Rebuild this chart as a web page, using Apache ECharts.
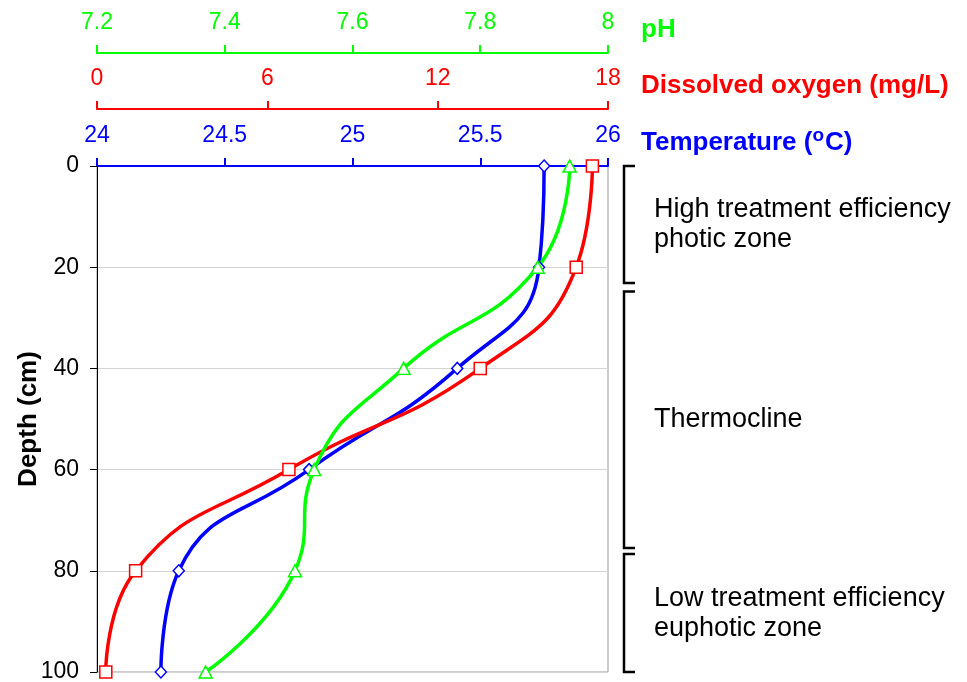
<!DOCTYPE html>
<html>
<head>
<meta charset="utf-8">
<title>Depth profile</title>
<style>
  html, body { margin: 0; padding: 0; background: #fff; }
  #main { width: 967px; height: 682px; }
</style>
</head>
<body>
<div id="main"></div>
<script src="https://cdn.jsdelivr.net/npm/echarts@6/dist/echarts.min.js"></script>
<script>
var depths = [0, 20, 40, 60, 80, 100];
var temperature = [25.75, 25.73, 25.41, 24.83, 24.32, 24.25];
var oxygen = [17.45, 16.88, 13.5, 6.76, 1.36, 0.31];
var ph = [7.94, 7.89, 7.68, 7.54, 7.51, 7.37];

var zoneNames = ['High treatment efficiency\nphotic zone', 'Thermocline', 'Low treatment efficiency\neuphotic zone'];
var zoneTop = [0, 24.8, 76.7];
var zoneBottom = [23.1, 75.5, 100];

var FONT = '"Liberation Sans", Arial, sans-serif';
var GREEN = '#00ff00', RED = '#ff0000', BLUE = '#0000ff';

var chart = echarts.init(document.getElementById('main'));

function topAxis(name, color, min, max, interval, offset) {
    return {
        type: 'value',
        position: 'top',
        offset: offset,
        min: min,
        max: max,
        interval: interval,
        axisLine: { show: true, onZero: false, lineStyle: { color: color, width: 2 } },
        axisTick: { show: true, length: 8, lineStyle: { color: color, width: 2 } },
        axisLabel: { color: color, fontSize: 23, fontFamily: FONT, margin: 19 },
        splitLine: { show: false },
        name: name,
        nameLocation: 'end',
        nameGap: 33,
        nameMoveOverlap: false,
        nameTextStyle: {
            color: color, fontSize: 26, fontWeight: 'bold', fontFamily: FONT,
            lineHeight: 34,
            padding: [0, 0, 46, 0],
            rich: {
                sup: {
                    color: color, fontSize: 19, fontWeight: 'bold', fontFamily: FONT,
                    lineHeight: 18, verticalAlign: 'top', padding: [0, 1, 0, 0]
                }
            }
        }
    };
}

function profile(name, values, axisIndex, color, symbol, size) {
    return {
        type: 'line',
        name: name,
        xAxisIndex: axisIndex,
        data: values.map(function (v, i) { return [v, depths[i]]; }),
        smooth: 0.5,
        symbol: symbol,
        symbolSize: size,
        showAllSymbol: true,
        lineStyle: { color: color, width: 3.5 },
        itemStyle: { color: '#fff', borderColor: color, borderWidth: 1.5 }
    };
}

chart.setOption({
    animation: false,
    backgroundColor: '#fff',
    grid: {
        left: 97, right: 359, top: 166, bottom: 10,
        outerBoundsMode: 'none',
        containLabel: false,
        show: true, borderColor: '#999', borderWidth: 1
    },
    xAxis: [
        topAxis('Temperature ({sup|o}C)', BLUE, 24, 26, 0.5, 0),
        topAxis('Dissolved oxygen (mg/L)', RED, 0, 18, 6, 57),
        topAxis('pH', GREEN, 7.2, 8, 0.2, 113)
    ],
    yAxis: {
        type: 'value',
        inverse: true,
        min: 0,
        max: 100,
        interval: 20,
        axisLine: { show: true, onZero: false, lineStyle: { color: '#000', width: 1 } },
        axisTick: { show: true, length: 7, lineStyle: { color: '#000' } },
        axisLabel: { color: '#000', fontSize: 23, fontFamily: FONT, margin: 18 },
        splitLine: { lineStyle: { color: '#d4d4d4' } },
        name: 'Depth (cm)',
        nameLocation: 'middle',
        nameGap: 55,
        nameMoveOverlap: false,
        nameTextStyle: { color: '#000', fontSize: 26, fontWeight: 'bold', fontFamily: FONT }
    },
    series: [
        profile('Temperature', temperature, 0, BLUE, 'diamond', [11, 12]),
        profile('Dissolved oxygen', oxygen, 1, RED, 'rect', 12),
        profile('pH', ph, 2, GREEN, 'triangle', [13, 12])
    ]
});

// brackets marking the zones, placed on the depth axis
var graphics = [];
zoneNames.forEach(function (label, i) {
    var y1 = chart.convertToPixel({ yAxisIndex: 0 }, zoneTop[i]);
    var y2 = chart.convertToPixel({ yAxisIndex: 0 }, zoneBottom[i]);
    graphics.push({
        type: 'polyline',
        shape: { points: [[635, y1], [624, y1], [624, y2], [635, y2]] },
        style: { stroke: '#000', lineWidth: 2.5, fill: 'none' }
    });
    graphics.push({
        type: 'text',
        x: 654,
        y: (y1 + y2) / 2,
        style: {
            text: label, fill: '#000', fontSize: 27, fontFamily: FONT,
            lineHeight: 30, verticalAlign: 'middle', align: 'left'
        }
    });
});
chart.setOption({ graphic: graphics });

window.onresize = chart.resize;
</script>
</body>
</html>
